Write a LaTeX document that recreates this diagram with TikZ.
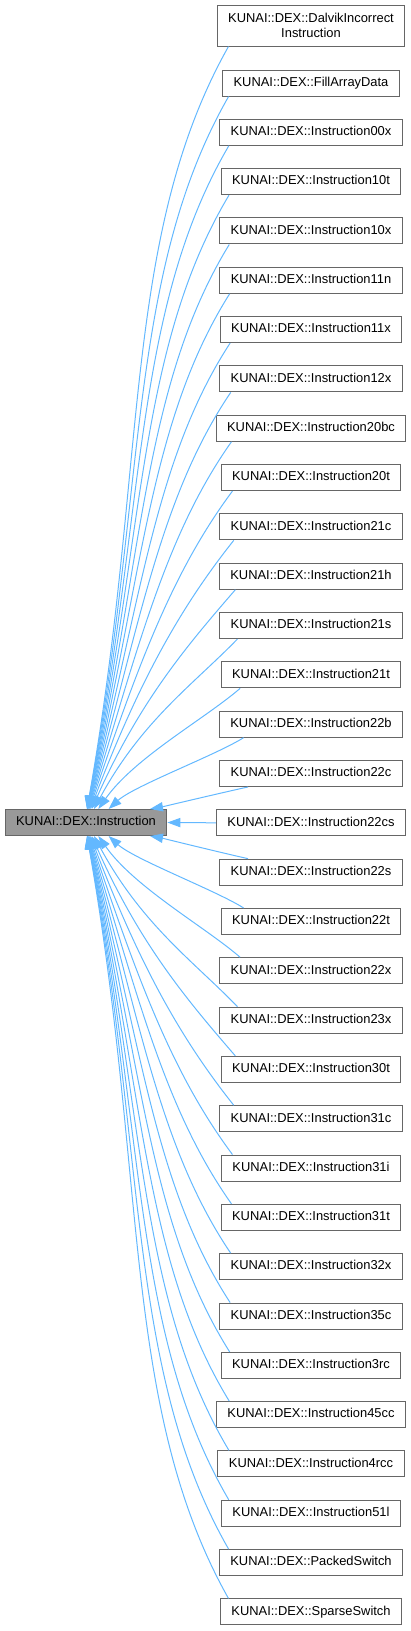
\documentclass[tikz,border=0pt]{standalone}
\usepackage{fontspec}
\setmainfont{Liberation Sans}
\usetikzlibrary{arrows.meta}
\definecolor{edgeblue}{HTML}{63B8FF}
\definecolor{boxborder}{HTML}{666666}
\definecolor{mainfill}{HTML}{999999}
\tikzset{
  cls/.style={draw=boxborder, line width=1pt, fill=white,
    font=\fontsize{12.9}{15}\selectfont, inner xsep=11pt, inner ysep=0pt,
    minimum height=26pt, text height=9.4pt, text depth=2.8pt},
  clstwo/.style={draw=boxborder, line width=1pt, fill=white,
    font=\fontsize{12.9}{15}\selectfont, inner xsep=11pt, inner ysep=0pt,
    minimum height=41pt, align=center},
  mainbox/.style={cls, fill=mainfill},
  inh/.style={draw=edgeblue, line width=1pt,
    -{Triangle[length=13pt,width=9.3pt]}}
}
\begin{document}
\begin{tikzpicture}[x=1pt,y=1pt]
\useasboundingbox (0,0) rectangle (411,-1631);
\node[mainbox] (m) at (86,-822.5) {KUNAI::DEX::Instruction};
\node[clstwo] (c0) at (311,-25.5) {KUNAI::DEX::DalvikIncorrect\\Instruction};
\foreach \nm [count=\i from 1] in {FillArrayData,Instruction00x,Instruction10t,Instruction10x,Instruction11n,Instruction11x,Instruction12x,Instruction20bc,Instruction20t,Instruction21c,Instruction21h,Instruction21s,Instruction21t,Instruction22b,Instruction22c,Instruction22cs,Instruction22s,Instruction22t,Instruction22x,Instruction23x,Instruction30t,Instruction31c,Instruction31i,Instruction31t,Instruction32x,Instruction35c,Instruction3rc,Instruction45cc,Instruction4rcc,Instruction51l,PackedSwitch,SparseSwitch}{
  \pgfmathsetmacro\yy{-(83+(\i-1)*49.32)}
  \node[cls] (c\i) at (311,\yy) {KUNAI::DEX::\nm};
}
\foreach \i in {0,...,32}{
  \ifnum\i=16
    \draw[inh] (c16.west) -- (m.east);
  \else
    \ifnum\i<16
      \pgfmathtruncatemacro\n{16-\i}
    \else
      \pgfmathtruncatemacro\n{\i-16}
    \fi
    \pgfmathsetmacro\xs{228+20*exp(-(\n-1)/4)}
    \pgfmathsetmacro\xe{86+64/(\n^1.5)}
    \pgfmathsetmacro\ph{18+60/(\n^0.6)}
    \pgfmathsetmacro\tht{80/(\n^0.75)}
    \pgfmathsetmacro\il{1.15*min(1,\n/4)}
    \pgfmathsetmacro\ol{0.72*min(1,0.5+\n/8)}
    \coordinate (s\i) at (\xs,0);
    \coordinate (e\i) at (\xe,0);
    \ifnum\i<16
      \pgfmathsetmacro\ao{270-\ph}
      \pgfmathsetmacro\ai{90-\tht}
      \draw[inh] (c\i.south west -| s\i) to[out=\ao,in=\ai,out looseness=\ol,in looseness=\il] (m.north west -| e\i);
    \else
      \pgfmathsetmacro\ao{90+\ph}
      \pgfmathsetmacro\ai{270+\tht}
      \draw[inh] (c\i.north west -| s\i) to[out=\ao,in=\ai,out looseness=\ol,in looseness=\il] (m.south west -| e\i);
    \fi
  \fi
}
\end{tikzpicture}
\end{document}
